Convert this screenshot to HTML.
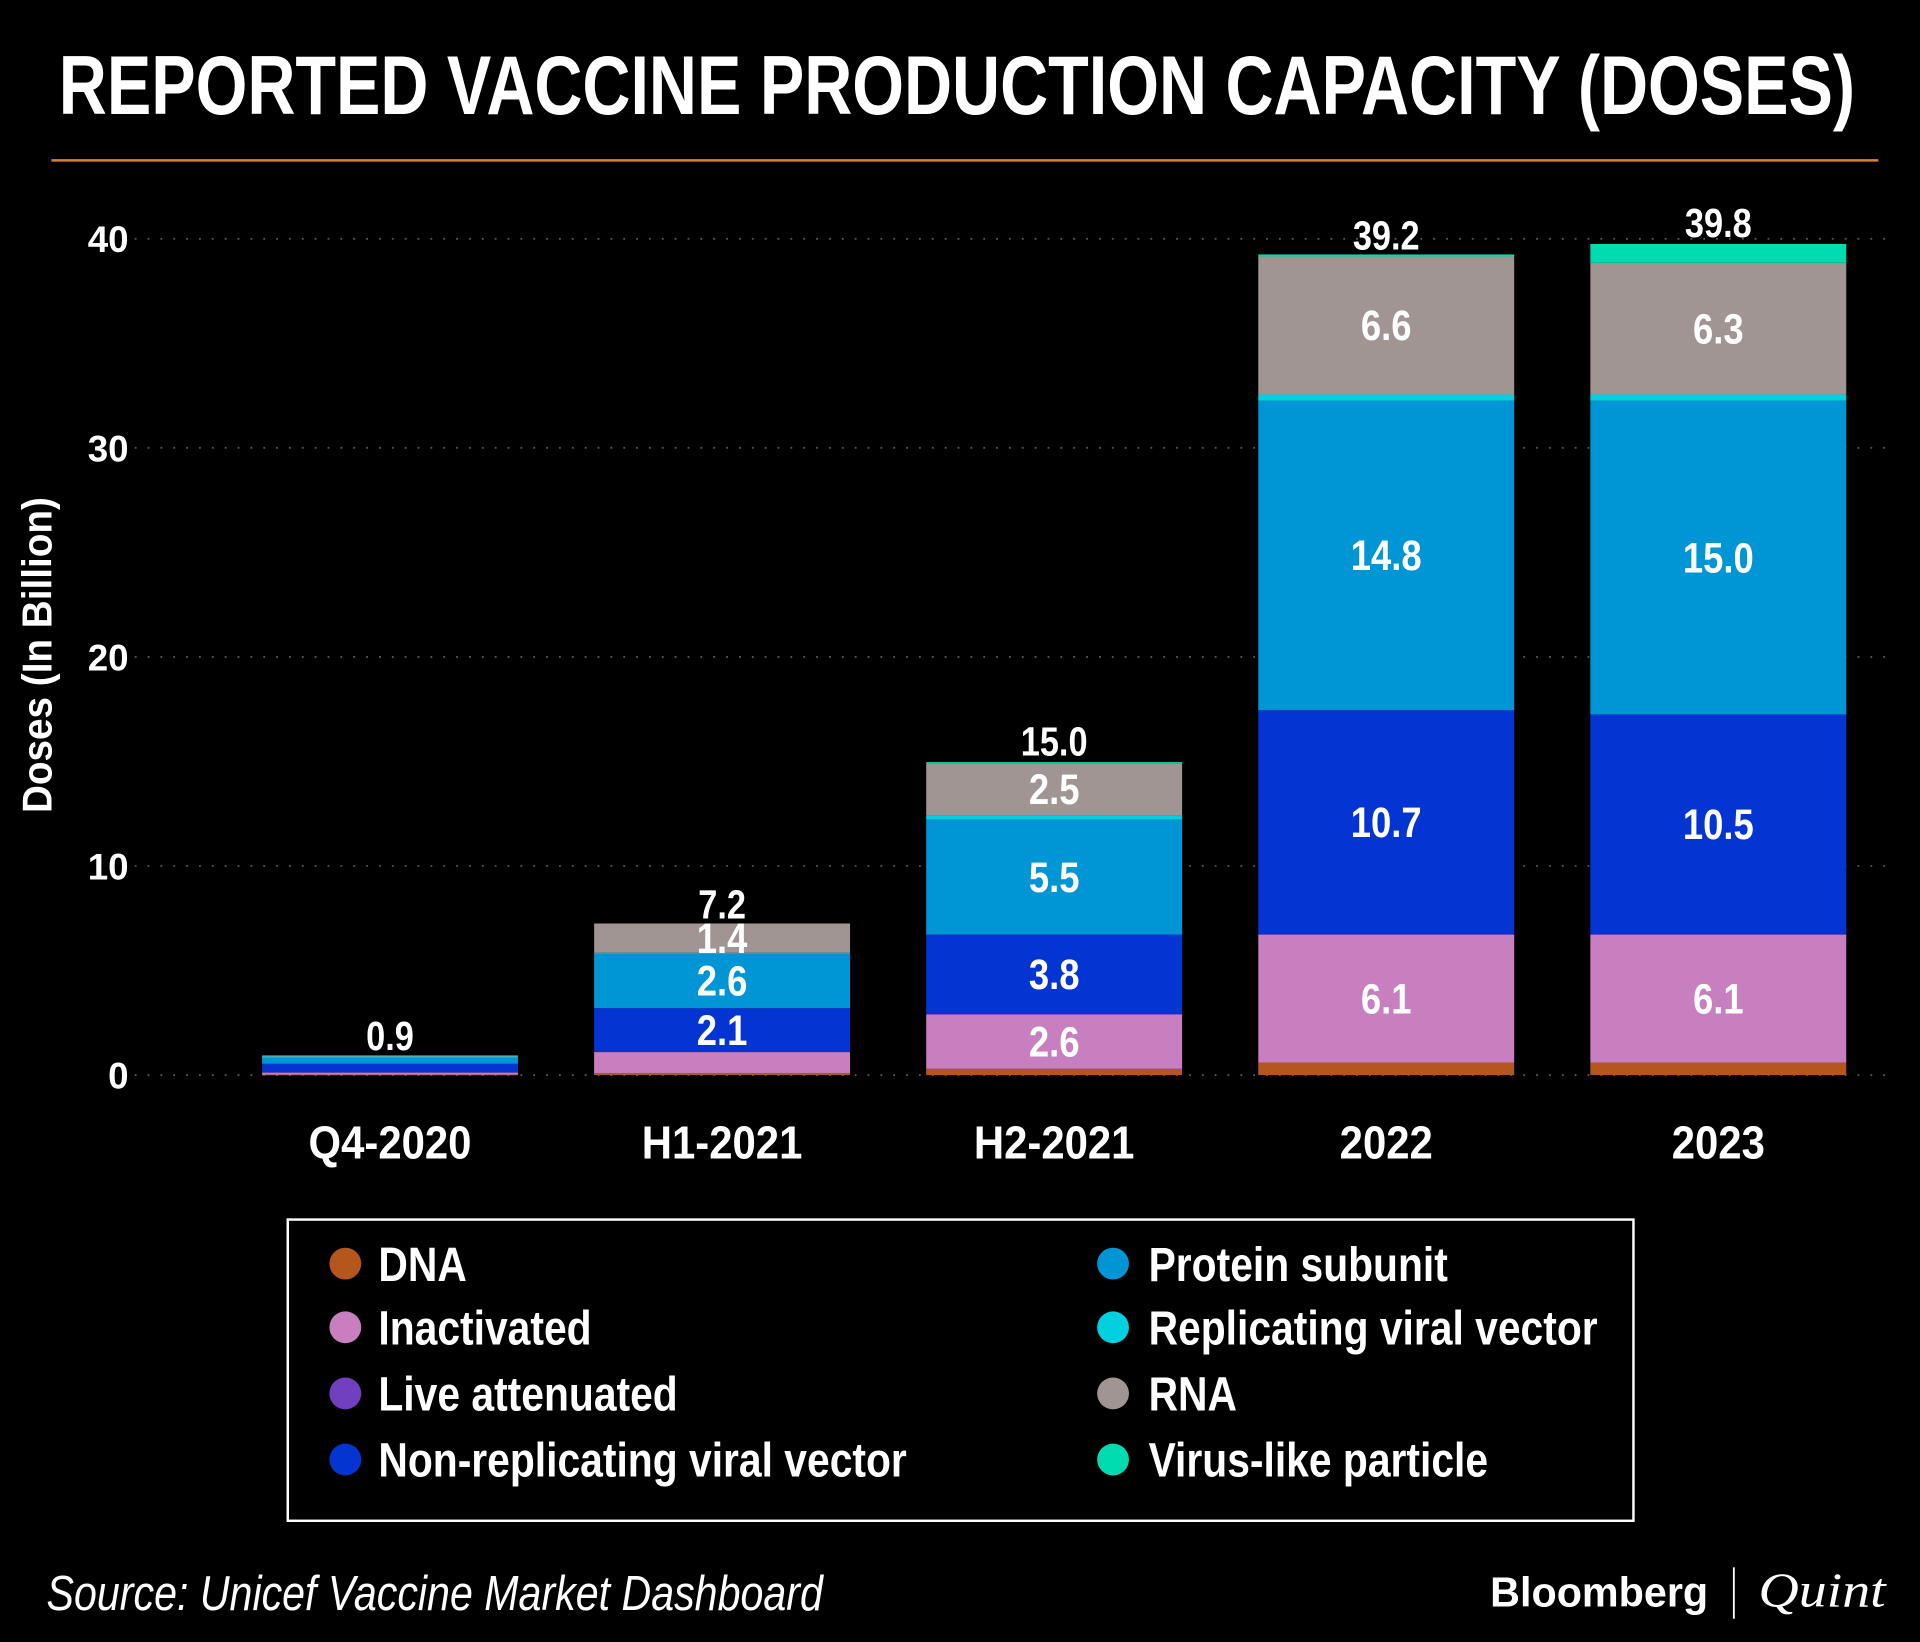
<!DOCTYPE html>
<html><head><meta charset="utf-8"><style>
html,body{margin:0;padding:0;background:#000;}
svg{display:block;}
text{font-family:"Liberation Sans Narrow","Liberation Sans",sans-serif;font-weight:bold;fill:#fff;}
</style></head><body>
<svg id="chart" width="1920" height="1642" viewBox="0 0 1568 1341" xmlns="http://www.w3.org/2000/svg">
<rect x="0" y="0" width="1568" height="1341" fill="#000"/>
<text x="48" y="93" font-size="68" textLength="1467" lengthAdjust="spacingAndGlyphs">REPORTED VACCINE PRODUCTION CAPACITY (DOSES)</text>
<line x1="42" y1="131" x2="1534" y2="131" stroke="#d9822b" stroke-width="2"/>
<text transform="translate(42,535) rotate(-90)" text-anchor="middle" font-size="34" textLength="258" lengthAdjust="spacingAndGlyphs">Doses (In Billion)</text>
<g id="grid"></g><g id="bars"></g><g id="labels"></g>
<rect x="235" y="996" width="1099" height="246" fill="none" stroke="#fff" stroke-width="2"/>
<g id="legend"></g>
<text x="38" y="1315" font-size="40" font-style="italic" textLength="634" lengthAdjust="spacingAndGlyphs" style="font-weight:normal">Source: Unicef Vaccine Market Dashboard</text>
<text x="1217" y="1312" font-size="34" style="font-family:'Liberation Sans',sans-serif" textLength="178" lengthAdjust="spacingAndGlyphs">Bloomberg</text>
<line x1="1416" y1="1280" x2="1416" y2="1322" stroke="#fff" stroke-width="1.5"/>
<text x="1436" y="1312" font-size="40" font-style="italic" style="font-family:'Liberation Serif',serif;font-weight:normal" textLength="104" lengthAdjust="spacingAndGlyphs">Quint</text>
</svg>
<script>
const categories=["Q4-2020","H1-2021","H2-2021","2022","2023"];
const seriesNames=["DNA","Inactivated","Live attenuated","Non-replicating viral vector","Protein subunit","Replicating viral vector","RNA","Virus-like particle"];
const dna=[0.02,0.1,0.3,0.6,0.6];
const inactivated=[0.1,1.0,2.6,6.1,6.1];
const liveAttenuated=[0.02,0,0.02,0.05,0.05];
const nonReplicating=[0.4,2.1,3.8,10.7,10.5];
const proteinSubunit=[0.3,2.6,5.5,14.8,15.0];
const replicating=[0.05,0.05,0.2,0.3,0.3];
const rna=[0.05,1.4,2.5,6.6,6.3];
const vlp=[0,0,0.05,0.1,0.9];
const totals=[0.9,7.2,15.0,39.2,39.8];
const yTicks=[0,10,20,30,40];
const colors=["#b5561c","#c77fc0","#7040c0","#0434d2","#0095d5","#00d0e0","#a09593","#00dcb0"];
const series=[dna,inactivated,liveAttenuated,nonReplicating,proteinSubunit,replicating,rna,vlp];
const NS="http://www.w3.org/2000/svg";
function mk(tag,attrs,parent){const e=document.createElementNS(NS,tag);for(const k in attrs)e.setAttribute(k,attrs[k]);document.getElementById(parent).appendChild(e);return e;}
function txt(x,y,sx,attrs,parent){attrs.transform='translate('+x+','+y+') scale('+sx+',1)';attrs.x=0;attrs.y=0;return mk('text',attrs,parent);}
const y0=878,pxPer=(878-195)/40;
function yScale(v){return y0-v*pxPer;}
const bw=209,firstX=214,step=271.2;
function xScale(i){return firstX+i*step;}
yTicks.forEach(t=>{
  const g=mk('line',{x1:110,x2:1545,y1:yScale(t),y2:yScale(t),stroke:'#555','stroke-width':1.5,'stroke-dasharray':'1.5 9'},'grid');
  
  
  const tx=mk('text',{x:105,y:yScale(t)+11,'text-anchor':'end','font-size':30,style:"font-family:'Liberation Sans',sans-serif"},'grid');
  tx.textContent=t;
  
  
});
categories.forEach((c,i)=>{
  let cum=0;const x=xScale(i);
  series.forEach((s,j)=>{
    const v=s[i];if(v<=0)return;
    const r=mk('rect',{x:x,y:yScale(cum+v),width:bw,height:Math.max(v*pxPer,0.5),fill:colors[j]},'bars');
    
    
    if(v>=1.3){
      const t=txt(x+bw/2,yScale(cum+v/2)+12,0.85,{'text-anchor':'middle','font-size':35},'labels');
      t.textContent=v.toFixed(1);
      
      
    }
    cum+=v;
  });
  const tt=txt(x+bw/2,yScale(totals[i])-5,0.85,{'text-anchor':'middle','font-size':33},'labels');
  tt.textContent=totals[i].toFixed(1);
  
  
  const xl=txt(x+bw/2,946,0.9,{'text-anchor':'middle','font-size':38},'labels');
  xl.textContent=c;
  
  
});
seriesNames.forEach((n,j)=>{
  const col=j<4?0:1,row=j%4;
  const cx=col?909:282,cy=[1032,1084,1138,1192][row];
  const c=mk('circle',{cx:cx,cy:cy,r:13,fill:colors[j]},'legend');
  
  
  const t=txt(col?938:309,cy+14,0.855,{'font-size':39},'legend');
  t.textContent=n;
  
  
});
</script>
</body></html>
